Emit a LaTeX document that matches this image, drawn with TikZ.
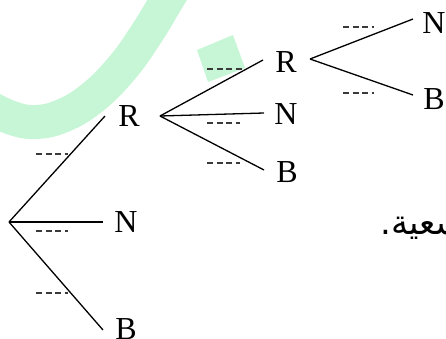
\documentclass[tikz,border=0pt]{standalone}
\usepackage{fontspec}
\setmainfont{Liberation Serif}
\newfontfamily\arabicfont[Script=Arabic]{DejaVu Sans}
\TeXXeTstate=1
\definecolor{hlgreen}{HTML}{C6F6D5}
\definecolor{dashgray}{HTML}{3A3A3A}
\begin{document}
\begin{tikzpicture}[x=1pt,y=-1pt,
  lbl/.style={inner sep=0pt,font=\fontsize{32}{32}\selectfont},
  branch/.style={line width=1.3pt,black},
  thickbranch/.style={line width=2.6pt,black},
  blank/.style={line width=1.1pt,dashgray,dash pattern=on 6pt off 3.5pt}]
\useasboundingbox (0,0) rectangle (446,338);
% green highlights
\draw[hlgreen,line width=34pt] plot[smooth,tension=0.7] coordinates {(176,-15) (167,0) (147,33) (122,68) (92,98) (62,116) (35,122) (12,118) (-12,107)};
\fill[hlgreen] (197,50) -- (233,35) -- (245,68) -- (208,82) -- cycle;
% labels
\node[lbl] (R1) at (129,116) {R};
\node[lbl] (N1) at (126,222) {N};
\node[lbl] (B1) at (126,329) {B};
\node[lbl] (R2) at (286,62) {R};
\node[lbl] (N2) at (286,114) {N};
\node[lbl] (B2) at (287,172) {B};
\node[lbl] (N3) at (434,23) {N};
\node[lbl] (B3) at (434,99) {B};
% branch points
\coordinate (root) at (9,222);
\coordinate (r1in) at (105,116);
\coordinate (n1in) at (103,222);
\coordinate (b1in) at (103,330);
\coordinate (r1out) at (160,116);
\coordinate (r2in) at (263,60);
\coordinate (n2in) at (264,113);
\coordinate (b2in) at (264,170);
\coordinate (r2out) at (310,59);
\coordinate (n3in) at (413,19);
\coordinate (b3in) at (413,95);
% connectors
\draw[branch] (root) -- (r1in);
\draw[thickbranch] (root) -- (n1in);
\draw[branch] (root) -- (b1in);
\draw[branch] (r1out) -- (r2in);
\draw[branch] (r1out) -- (n2in);
\draw[branch] (r1out) -- (b2in);
\draw[branch] (r2out) -- (n3in);
\draw[branch] (r2out) -- (b3in);
% probability blanks
\draw[blank] (36,154) -- (68,154);
\draw[blank] (36,231) -- (68,231);
\draw[blank] (36,293) -- (68,293);
\draw[blank] (207,69) -- (243,69);
\draw[blank] (207,123) -- (240,123);
\draw[blank] (207,163) -- (240,163);
\draw[blank] (343,27) -- (374,27);
\draw[blank] (343,93) -- (374,93);
% arabic text
\node[inner sep=0pt,anchor=base west,font=\fontsize{34}{34}\arabicfont] (ar) at (380,234) {\beginR تسعية.\endR};
\end{tikzpicture}
\end{document}
